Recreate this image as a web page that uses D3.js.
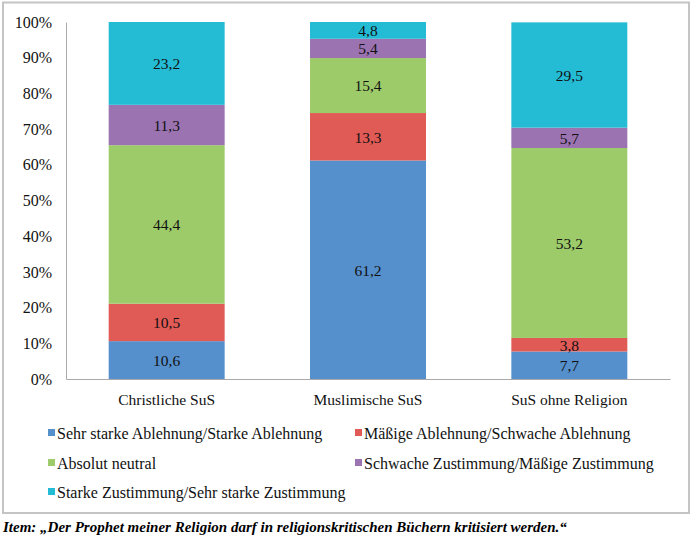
<!DOCTYPE html>
<html><head><meta charset="utf-8">
<script src="https://cdn.jsdelivr.net/npm/d3@7"></script>
<style>body{margin:0;background:#fff;} svg{display:block;}</style>
</head><body>
<svg id="c" width="692" height="537"></svg>
<script>
const categories = ["Christliche SuS", "Muslimische SuS", "SuS ohne Religion"];
const seriesNames = [
  "Sehr starke Ablehnung/Starke Ablehnung",
  "Mäßige Ablehnung/Schwache Ablehnung",
  "Absolut neutral",
  "Schwache Zustimmung/Mäßige Zustimmung",
  "Starke Zustimmung/Sehr starke Zustimmung"
];
const sehrStarkeAblehnung = [10.6, 61.2, 7.7];
const maessigeAblehnung = [10.5, 13.3, 3.8];
const absolutNeutral = [44.4, 15.4, 53.2];
const schwacheZustimmung = [11.3, 5.4, 5.7];
const starkeZustimmung = [23.2, 4.8, 29.5];
const yTicks = [0, 10, 20, 30, 40, 50, 60, 70, 80, 90, 100];
const colors = ["#5590cc", "#e05a56", "#9dcb6a", "#9b73b1", "#24bcd5"];
const footer = "Item: „Der Prophet meiner Religion darf in religionskritischen Büchern kritisiert werden.“";

const seriesValues = [sehrStarkeAblehnung, maessigeAblehnung, absolutNeutral, schwacheZustimmung, starkeZustimmung];
const table = categories.map((c, i) => {
  const o = {cat: c};
  seriesNames.forEach((s, j) => o[s] = seriesValues[j][i]);
  return o;
});
const stacked = d3.stack().keys(seriesNames)(table);

const svg = d3.select("#c");
const font = "'Liberation Serif', 'DejaVu Serif', serif";

svg.append("rect").attr("x", 3).attr("y", 2.5).attr("width", 686).attr("height", 510.5)
  .attr("fill", "#fff").attr("stroke", "#c4c4c4").attr("stroke-width", 2);

const x = d3.scaleBand().domain(categories).range([66, 670]).paddingInner(0.424).paddingOuter(0.212);
const y = d3.scaleLinear().domain([0, 100]).range([379, 22]);

// bars
const g = svg.append("g");
stacked.forEach((layer, j) => {
  g.selectAll(null).data(layer).enter().append("rect")
    .attr("x", d => x(d.data.cat))
    .attr("width", x.bandwidth())
    .attr("y", d => y(Math.min(d[1], 100)))
    .attr("height", d => y(d[0]) - y(Math.min(d[1], 100)))
    .attr("fill", colors[j]);
  g.selectAll(null).data(layer).enter().append("text")
    .attr("x", d => x(d.data.cat) + x.bandwidth() / 2)
    .attr("y", d => (y(d[0]) + y(Math.min(d[1], 100))) / 2)
    .attr("dy", "0.38em")
    .attr("text-anchor", "middle")
    .attr("font-family", font).attr("font-size", 15.5).attr("fill", "#111")
    .text(d => (d[1] - d[0]).toFixed(1).replace(".", ","));
});

// y axis
const yAxis = d3.axisLeft(y).tickValues(yTicks).tickSize(0).tickPadding(14)
  .tickFormat(d => d + "%");
const ya = svg.append("g").attr("transform", "translate(66,0)").call(yAxis);
ya.select(".domain").attr("stroke", "#aaa").attr("stroke-width", 1);
ya.selectAll("text").attr("font-family", font).attr("font-size", 16).attr("fill", "#111");

// x axis
const xAxis = d3.axisBottom(x).tickSize(0).tickPadding(15).tickSizeOuter(0);
const xa = svg.append("g").attr("transform", "translate(0,379)").call(xAxis);
xa.select(".domain").attr("stroke", "#aaa").attr("stroke-width", 1.2);
xa.selectAll("text").attr("font-family", font).attr("font-size", 15.5).attr("fill", "#111");

// legend
const legPos = [[48, 439], [355, 439], [48, 469], [355, 469], [48, 498]];
seriesNames.forEach((s, j) => {
  const [lx, ly] = legPos[j];
  svg.append("rect").attr("x", lx).attr("y", ly - 10).attr("width", 7).attr("height", 7).attr("fill", colors[j]);
  svg.append("text").attr("x", lx + 9).attr("y", ly)
    .attr("font-family", font).attr("font-size", 16).attr("fill", "#111").text(s);
});

// footer
svg.append("text").attr("x", 3).attr("y", 532)
  .attr("font-family", "'Liberation Serif', 'Times New Roman', serif")
  .attr("font-weight", "bold").attr("font-style", "italic").attr("font-size", 15)
  .attr("fill", "#000").text(footer);
</script>
</body></html>
